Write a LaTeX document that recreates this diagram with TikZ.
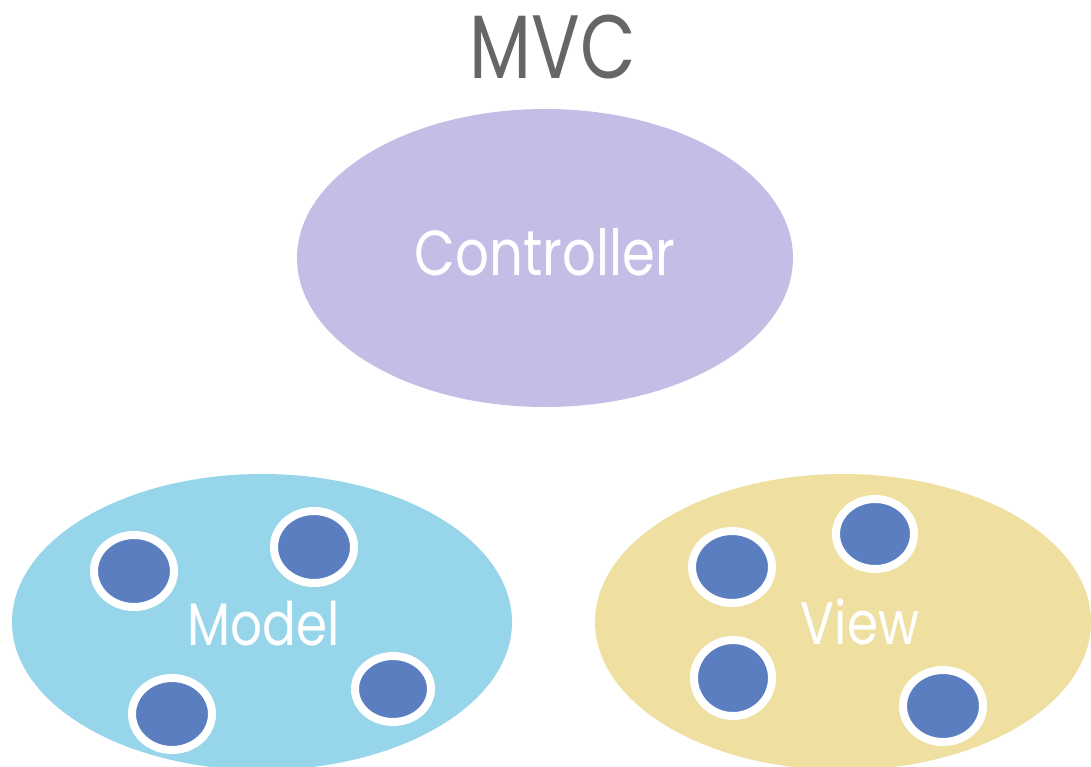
\documentclass[tikz,border=0pt]{standalone}
\usepackage{fontspec}
\setmainfont{Poppins}
\usetikzlibrary{shapes.geometric}
\definecolor{ctrlfill}{HTML}{C6BDE6}
\definecolor{modelfill}{HTML}{97D5EA}
\definecolor{viewfill}{HTML}{EFE0A2}
\definecolor{dotfill}{HTML}{5A7EC0}
\definecolor{titlegray}{HTML}{666666}
% letters a little taller than the font draws them
\newcommand{\tall}[1]{\scalebox{1}[1.2]{#1}}
\tikzset{
  part/.style={ellipse, inner sep=0pt, minimum width=500pt, minimum height=296pt},
  label/.style={text=white, font=\fontsize{50}{52}\selectfont},
  dot/.style={ellipse, inner sep=0pt, fill=dotfill, draw=white, line width=8pt,
    minimum width=80pt, minimum height=72pt},
}
\begin{document}
\begin{tikzpicture}[x=1pt,y=-1pt]
  \useasboundingbox[fill=white] (0,0) rectangle (1091,767);

  \node[text=titlegray, font=\fontsize{72}{74}\selectfont] (title) at (553,47)
    {\scalebox{1}[1.25]{MVC}};

  \node[part, fill=ctrlfill, minimum width=496pt, minimum height=298pt] (controller) at (545,258) {};
  \node[text=white, font=\fontsize{53}{55}\selectfont] (controllertext) at (545,252)
    {\tall{Controller}};

  \node[part, fill=modelfill] (model) at (262,622) {};
  \node[label] (modeltext) at (264,624) {\tall{Model}};
  \node[dot] (m1) at (134,571) {};
  \node[dot] (m2) at (314,547) {};
  \node[dot] (m3) at (172,714) {};
  \node[dot, minimum width=76pt, minimum height=66pt] (m4) at (393,689) {};

  \node[part, fill=viewfill, minimum width=496pt] (view) at (843,622) {};
  \node[label] (viewtext) at (860,622) {\tall{View}};
  \node[dot] (v1) at (732,567) {};
  \node[dot, minimum width=78pt, minimum height=70pt] (v2) at (875,534) {};
  \node[dot, minimum width=78pt, minimum height=76pt] (v3) at (733,678) {};
  \node[dot] (v4) at (943,706) {};
\end{tikzpicture}
\end{document}
